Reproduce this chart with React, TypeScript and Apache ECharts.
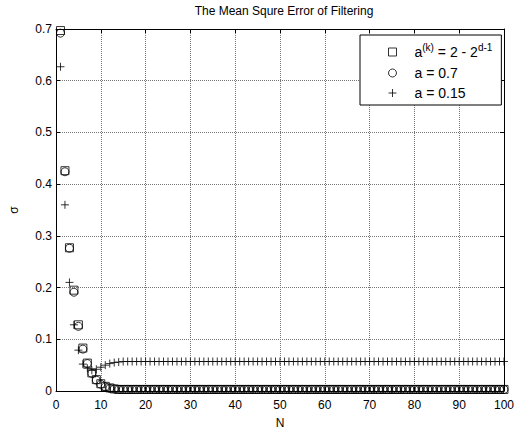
import React, { useEffect, useRef } from "react";
import * as echarts from "echarts";

const titleText = "The Mean Squre Error of Filtering";
const seriesNames = ["a(k) = 2 - 2d-1", "a = 0.7", "a = 0.15"];
const xTicks = [0, 10, 20, 30, 40, 50, 60, 70, 80, 90, 100];

// N = 1..100
const adaptiveVals = [
  0.697, 0.426, 0.277, 0.195, 0.128, 0.083, 0.054, 0.035, 0.022, 0.014,
  0.009, 0.006, 0.004, 0.003, 0.003, 0.003, 0.003, 0.003, 0.003, 0.003,
  0.003, 0.003, 0.003, 0.003, 0.003, 0.003, 0.003, 0.003, 0.003, 0.003,
  0.003, 0.003, 0.003, 0.003, 0.003, 0.003, 0.003, 0.003, 0.003, 0.003,
  0.003, 0.003, 0.003, 0.003, 0.003, 0.003, 0.003, 0.003, 0.003, 0.003,
  0.003, 0.003, 0.003, 0.003, 0.003, 0.003, 0.003, 0.003, 0.003, 0.003,
  0.003, 0.003, 0.003, 0.003, 0.003, 0.003, 0.003, 0.003, 0.003, 0.003,
  0.003, 0.003, 0.003, 0.003, 0.003, 0.003, 0.003, 0.003, 0.003, 0.003,
  0.003, 0.003, 0.003, 0.003, 0.003, 0.003, 0.003, 0.003, 0.003, 0.003,
  0.003, 0.003, 0.003, 0.003, 0.003, 0.003, 0.003, 0.003, 0.003, 0.003,
];
const a07Vals = [
  0.692, 0.424, 0.276, 0.191, 0.125, 0.081, 0.053, 0.034, 0.021, 0.013,
  0.008, 0.005, 0.004, 0.003, 0.003, 0.003, 0.003, 0.003, 0.003, 0.003,
  0.003, 0.003, 0.003, 0.003, 0.003, 0.003, 0.003, 0.003, 0.003, 0.003,
  0.003, 0.003, 0.003, 0.003, 0.003, 0.003, 0.003, 0.003, 0.003, 0.003,
  0.003, 0.003, 0.003, 0.003, 0.003, 0.003, 0.003, 0.003, 0.003, 0.003,
  0.003, 0.003, 0.003, 0.003, 0.003, 0.003, 0.003, 0.003, 0.003, 0.003,
  0.003, 0.003, 0.003, 0.003, 0.003, 0.003, 0.003, 0.003, 0.003, 0.003,
  0.003, 0.003, 0.003, 0.003, 0.003, 0.003, 0.003, 0.003, 0.003, 0.003,
  0.003, 0.003, 0.003, 0.003, 0.003, 0.003, 0.003, 0.003, 0.003, 0.003,
  0.003, 0.003, 0.003, 0.003, 0.003, 0.003, 0.003, 0.003, 0.003, 0.003,
];
const a015Vals = [
  0.627, 0.36, 0.21, 0.128, 0.079, 0.052, 0.044, 0.04, 0.042, 0.046,
  0.05, 0.053, 0.055, 0.056, 0.057, 0.057, 0.057, 0.057, 0.057, 0.057,
  0.057, 0.057, 0.057, 0.057, 0.057, 0.057, 0.057, 0.057, 0.057, 0.057,
  0.057, 0.057, 0.057, 0.057, 0.057, 0.057, 0.057, 0.057, 0.057, 0.057,
  0.057, 0.057, 0.057, 0.057, 0.057, 0.057, 0.057, 0.057, 0.057, 0.057,
  0.057, 0.057, 0.057, 0.057, 0.057, 0.057, 0.057, 0.057, 0.057, 0.057,
  0.057, 0.057, 0.057, 0.057, 0.057, 0.057, 0.057, 0.057, 0.057, 0.057,
  0.057, 0.057, 0.057, 0.057, 0.057, 0.057, 0.057, 0.057, 0.057, 0.057,
  0.057, 0.057, 0.057, 0.057, 0.057, 0.057, 0.057, 0.057, 0.057, 0.057,
  0.057, 0.057, 0.057, 0.057, 0.057, 0.057, 0.057, 0.057, 0.057, 0.057,
];

const FONT = "'Liberation Sans', Arial, sans-serif";
const PLUS = "path://M0,5L10,5M5,0L5,10";

const toPoints = (vals: number[]) => vals.map((v, i) => [i + 1, v]);

export default function App() {
  const ref = useRef<HTMLDivElement>(null);
  useEffect(() => {
    if (!ref.current) return;
    const chart = echarts.init(ref.current, null, { renderer: "svg" });
    const hollow = { color: "transparent", borderColor: "#000", borderWidth: 1 };
    const common = {
      type: "scatter" as const,
      xAxisIndex: 0,
      yAxisIndex: 0,
      itemStyle: hollow,
      emphasis: { disabled: true },
    };
    const grid = { color: "#777", type: [1, 1], width: 1 };
    chart.setOption({
      animation: false,
      backgroundColor: "#fff",
      textStyle: { fontFamily: FONT, color: "#000" },
      title: {
        text: titleText,
        left: 279,
        textAlign: "center",
        top: 0,
        textStyle: { fontFamily: FONT, fontSize: 12, fontWeight: "normal", color: "#000" },
      },
      grid: { left: 48, right: 7, top: 29, bottom: 41, containLabel: false },
      legend: {
        orient: "vertical",
        left: 360,
        top: 35,
        padding: [7, 9, 3, 28],
        itemGap: 2,
        itemWidth: 8,
        itemHeight: 8,
        backgroundColor: "#fff",
        borderColor: "#000",
        borderWidth: 1,
        borderRadius: 0,
        selectedMode: false,
        itemStyle: { borderWidth: 1 },
        data: seriesNames,
        formatter: (name: string) => {
          if (name === seriesNames[0]) {
            return "{b|a}{sup|(k)}{b| = 2 - 2}{sup|d-1}";
          }
          return "{b|" + name + "}";
        },
        textStyle: {
          fontFamily: FONT,
          fontSize: 14,
          lineHeight: 18,
          color: "#000",
          padding: [0, 0, 0, 13],
          rich: {
            b: { fontFamily: FONT, fontSize: 14, color: "#000", lineHeight: 18 },
            sup: { fontFamily: FONT, fontSize: 10, color: "#000", lineHeight: 8, padding: [0, 0, 10, 0] },
          },
        },
      },
      xAxis: [
        {
          type: "value",
          min: 0,
          max: 100,
          interval: 10,
          name: "N",
          nameLocation: "middle",
          nameGap: 26,
          nameTextStyle: { fontFamily: FONT, fontSize: 12, color: "#000" },
          axisLine: { show: true, onZero: false, lineStyle: { color: "#000", width: 1 } },
          axisTick: { show: true, inside: true, length: 4, lineStyle: { color: "#000" } },
          axisLabel: {
            fontFamily: FONT,
            fontSize: 12,
            color: "#000",
            margin: 8,
            formatter: (v: number) => (xTicks.includes(v) ? String(v) : ""),
          },
          splitLine: { show: true, lineStyle: grid },
        },
        {
          type: "value",
          position: "top",
          min: 0,
          max: 100,
          interval: 10,
          axisLine: { show: true, onZero: false, lineStyle: { color: "#000", width: 1 } },
          axisTick: { show: true, inside: true, length: 4, lineStyle: { color: "#000" } },
          axisLabel: { show: false },
          splitLine: { show: false },
        },
      ],
      yAxis: [
        {
          type: "value",
          min: 0,
          max: 0.7,
          interval: 0.1,
          name: "σ",
          nameLocation: "middle",
          nameGap: 36,
          nameTextStyle: { fontFamily: FONT, fontSize: 12, color: "#000" },
          axisLine: { show: true, onZero: false, lineStyle: { color: "#000", width: 1 } },
          axisTick: { show: true, inside: true, length: 4, lineStyle: { color: "#000" } },
          axisLabel: {
            fontFamily: FONT,
            fontSize: 12,
            color: "#000",
            margin: 4,
            formatter: (v: number) => (Math.abs(v) < 1e-9 ? "0" : String(Math.round(v * 10) / 10)),
          },
          splitLine: { show: true, lineStyle: grid },
        },
        {
          type: "value",
          position: "right",
          min: 0,
          max: 0.7,
          interval: 0.1,
          axisLine: { show: true, onZero: false, lineStyle: { color: "#000", width: 1 } },
          axisTick: { show: true, inside: true, length: 4, lineStyle: { color: "#000" } },
          axisLabel: { show: false },
          splitLine: { show: false },
        },
      ],
      series: [
        { ...common, name: seriesNames[0], symbol: "rect", symbolSize: 8, data: toPoints(adaptiveVals) },
        { ...common, name: seriesNames[1], symbol: "circle", symbolSize: 8, data: toPoints(a07Vals) },
        { ...common, name: seriesNames[2], symbol: PLUS, symbolSize: 8, data: toPoints(a015Vals) },
      ],
    });
    return () => chart.dispose();
  }, []);
  return <div ref={ref} style={{ width: 517, height: 434, position: "absolute", left: 0, top: 0 }} />;
}
